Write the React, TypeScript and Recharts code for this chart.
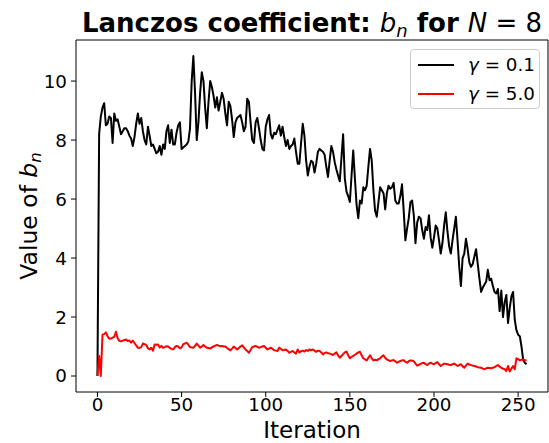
import { LineChart, Line, XAxis, YAxis, ReferenceArea, Legend } from 'recharts';

// b_n values, one per Lanczos iteration
const gamma01 = [
  0, 8.2, 8.8, 9.1, 9.25, 8.5, 8.55, 8.8, 8.75, 7.9,
  8.9, 8.65, 8.7, 8.45, 8.2, 8.3, 8.4, 8.4, 8.3, 8.15,
  8.05, 7.8, 8.1, 8.55, 8.9, 8.55, 8.75, 8.3, 8.0, 7.85,
  8.45, 8.15, 7.8, 7.85, 7.7, 7.55, 7.6, 7.8, 7.5, 7.85,
  7.7, 8.3, 8.5, 7.9, 8.35, 7.85, 7.85, 8.25, 8.5, 8.6,
  7.7, 7.75, 7.8, 7.85, 7.95, 8.4, 10.0, 10.85, 9.6, 8.0,
  8.6, 9.6, 10.3, 10.0, 9.1, 8.4, 9.3, 10.0, 9.8, 9.5,
  9.1, 9.45, 9.0, 9.3, 9.6, 9.4, 8.9, 8.5, 9.3, 9.15,
  8.7, 8.1, 8.6, 8.75, 8.8, 8.85, 8.6, 8.3, 8.45, 9.4,
  9.3, 8.6, 8.0, 7.9, 8.6, 8.75, 8.4, 8.0, 7.7, 7.65,
  8.45, 8.7, 8.85, 8.2, 8.05, 8.25, 8.2, 8.35, 8.5, 8.15,
  8.45, 8.1, 7.8, 8.0, 7.7, 7.8, 7.85, 8.05, 7.6, 7.2,
  7.2, 7.9, 8.55, 8.15, 7.3, 6.8, 7.1, 7.3, 7.25, 6.9,
  7.2, 7.6, 7.7, 7.65, 7.6, 7.5, 7.1, 6.75, 7.3, 7.8,
  7.6, 7.25, 7.0, 6.8, 6.6, 7.4, 8.2, 6.7, 6.25, 6.1,
  5.9, 6.8, 7.65, 6.7, 5.8, 5.35, 5.95, 5.85, 6.4, 6.3,
  6.45, 7.1, 7.7, 7.3, 6.3, 5.6, 5.4, 5.9, 6.4, 6.3,
  6.2, 5.65, 6.2, 6.45, 6.35, 6.4, 6.55, 5.95, 5.85, 5.85,
  6.1, 6.5, 5.6, 4.6, 5.0, 5.35, 5.9, 5.95, 5.45, 4.5,
  5.2, 5.4, 5.35, 4.95, 4.65, 5.05, 4.95, 5.45, 4.7, 4.35,
  4.7, 5.1, 5.0, 4.6, 4.15, 4.5, 5.1, 5.55, 4.9, 4.4,
  4.15, 4.6, 5.0, 5.4, 4.6, 3.7, 3.05, 4.0, 4.15, 4.65,
  4.3, 3.85, 3.7, 3.8, 4.05, 4.3, 3.8, 3.3, 2.85, 3.0,
  3.1, 3.2, 3.6, 3.25, 3.3, 3.05, 2.85, 2.8, 2.95, 2.2,
  2.9, 2.0, 2.5, 2.75, 1.8, 2.3, 2.7, 2.85, 1.9, 1.55,
  1.4, 1.35, 1.0, 0.55, 0.45, 0.4,
];

const gamma50 = [
  0, 0.68, 0, 1.4, 1.42, 1.48, 1.35, 1.26, 1.27, 1.3,
  1.33, 1.5, 1.28, 1.19, 1.18, 1.2, 1.22, 1.24, 1.19, 1.2,
  1.13, 1.2, 1.12, 1.04, 0.96, 0.95, 0.98, 1.1, 1.08, 1.05,
  0.94, 0.9, 0.96, 0.86, 1.07, 1.06, 1.07, 0.97, 1.02, 0.96,
  0.98, 1.01, 1.0, 0.95, 0.92, 0.9, 0.98, 1.02, 1.0, 0.94,
  0.97, 1.08, 1.1, 1.13, 1.06, 0.98, 0.97, 0.96, 1.02, 1.1,
  1.03, 0.96, 1.0, 1.05, 1.0, 0.96, 0.95, 0.93, 0.97, 1.0,
  1.03, 1.05, 1.03, 1.01, 1.02, 1.0, 1.0, 0.95, 0.91, 0.87,
  0.93, 1.0, 0.95, 0.9, 0.95, 1.0, 1.04, 0.97, 0.9, 0.85,
  0.79, 0.88, 0.98, 1.0, 1.02, 0.99, 0.96, 0.98, 1.0, 1.02,
  0.96, 0.9, 0.93, 0.96, 0.92, 0.87, 0.86, 0.85, 0.96, 0.92,
  0.87, 0.88, 0.9, 0.85, 0.79, 0.82, 0.85, 0.8, 0.76, 0.9,
  0.8, 0.84, 0.86, 0.83, 0.88, 0.85, 0.9, 0.87, 0.9, 0.86,
  0.82, 0.86, 0.85, 0.8, 0.73, 0.78, 0.8, 0.77, 0.76, 0.74,
  0.71, 0.76, 0.8, 0.7, 0.62, 0.68, 0.74, 0.8, 0.83, 0.7,
  0.6, 0.65, 0.68, 0.72, 0.76, 0.8, 0.82, 0.7, 0.6, 0.56,
  0.53, 0.62, 0.7, 0.6, 0.53, 0.55, 0.53, 0.57, 0.6, 0.66,
  0.7, 0.62, 0.56, 0.53, 0.51, 0.53, 0.54, 0.5, 0.45, 0.48,
  0.51, 0.53, 0.53, 0.48, 0.45, 0.5, 0.53, 0.52, 0.5, 0.42,
  0.35, 0.38, 0.41, 0.44, 0.45, 0.4, 0.37, 0.42, 0.45, 0.42,
  0.4, 0.44, 0.47, 0.4, 0.34, 0.38, 0.42, 0.41, 0.4, 0.38,
  0.37, 0.4, 0.42, 0.38, 0.34, 0.37, 0.4, 0.33, 0.28, 0.36,
  0.42, 0.39, 0.37, 0.35, 0.34, 0.32, 0.3, 0.29, 0.28, 0.25,
  0.23, 0.26, 0.28, 0.27, 0.26, 0.28, 0.3, 0.34, 0.37, 0.32,
  0.28, 0.25, 0.23, 0.17, 0.34, 0.15, 0.25, 0.34, 0.23, 0.6,
  0.57, 0.53, 0.55, 0.56, 0.54, 0.52,
];

const iterations = gamma01.map((_, i) => i);
const xTicks = [0, 50, 100, 150, 200, 250];
const yTicks = [0, 2, 4, 6, 8, 10];
const seriesLabels = ['0.1', '5.0'];
const seriesColors = ['#000000', '#ff0000'];

const data = iterations.map((it, i) => ({ iter: it, g01: gamma01[i], g50: gamma50[i] }));

const X_DOMAIN: [number, number] = [-12.75, 267.75];
const Y_DOMAIN: [number, number] = [-0.5425, 11.3925];
const FONT = 'DejaVu Sans';

function LegendBox() {
  return (
    <div
      style={{
        width: 130,
        height: 60,
        boxSizing: 'border-box',
        border: '1px solid #cccccc',
        borderRadius: 4,
        background: 'rgba(255,255,255,0.8)',
        position: 'relative',
        fontFamily: FONT,
        fontSize: 18.3,
        color: '#000',
      }}
    >
      {seriesLabels.map((lab, i) => (
        <div key={lab} style={{ position: 'absolute', left: 0, top: 15 + i * 29 - 12, height: 24, width: '100%' }}>
          <svg width={40} height={24} style={{ position: 'absolute', left: 7, top: 0 }}>
            <line x1={0} y1={12} x2={36} y2={12} stroke={seriesColors[i]} strokeWidth={2} />
          </svg>
          <span style={{ position: 'absolute', left: 57, top: 0, lineHeight: '24px', whiteSpace: 'nowrap' }}>
            <i>γ</i> = {lab}
          </span>
        </div>
      ))}
    </div>
  );
}

export default function App() {
  return (
    <div style={{ position: 'absolute', left: 0, top: 0, width: 549, height: 443, background: '#fff' }}>
      <LineChart width={549} height={443} data={data} margin={{ top: 40, right: 1, bottom: 0, left: 0 }}>
        <XAxis
          dataKey="iter"
          type="number"
          domain={X_DOMAIN}
          allowDataOverflow
          ticks={xTicks}
          axisLine={false}
          tickLine={{ stroke: '#000', strokeWidth: 1 }}
          tickSize={5}
          tickMargin={1.5}
          height={51}
          tick={{ fill: '#000', fontSize: 18.3, fontFamily: FONT }}
        />
        <YAxis
          type="number"
          domain={Y_DOMAIN}
          allowDataOverflow
          ticks={yTicks}
          axisLine={false}
          tickLine={{ stroke: '#000', strokeWidth: 1 }}
          tickSize={5}
          tickMargin={4}
          width={76}
          tick={{ fill: '#000', fontSize: 18.3, fontFamily: FONT }}
        />
        <Line
          dataKey="g01"
          type="linear"
          stroke={seriesColors[0]}
          strokeWidth={2}
          strokeLinejoin="round"
          dot={false}
          isAnimationActive={false}
        />
        <Line
          dataKey="g50"
          type="linear"
          stroke={seriesColors[1]}
          strokeWidth={2}
          strokeLinejoin="round"
          dot={false}
          isAnimationActive={false}
        />
        <ReferenceArea
          x1={X_DOMAIN[0]}
          x2={X_DOMAIN[1]}
          y1={Y_DOMAIN[0]}
          y2={Y_DOMAIN[1]}
          fill="none"
          stroke="#000"
          strokeWidth={1}
          ifOverflow="visible"
        />
        <Legend
          layout="vertical"
          align="center"
          verticalAlign="middle"
          content={() => <LegendBox />}
          wrapperStyle={{ position: 'absolute', left: 410, top: 49, width: 130, height: 60 }}
        />
      </LineChart>
      <svg width={549} height={443} style={{ position: 'absolute', left: 0, top: 0, pointerEvents: 'none' }}>
        <text x={312} y={32} textAnchor="middle" fontFamily={FONT} fontSize={26} fontWeight="bold" fill="#000">
          {'Lanczos coefficient: '}
          <tspan fontStyle="italic" fontWeight="normal">b</tspan>
          <tspan fontStyle="italic" fontWeight="normal" fontSize={18} dy={5}>n</tspan>
          <tspan dy={-5}>{' for '}</tspan>
          <tspan fontStyle="italic" fontWeight="normal">N</tspan>
          <tspan fontWeight="normal">{' = 8'}</tspan>
        </text>
        <text x={312} y={437.5} textAnchor="middle" fontFamily={FONT} fontSize={23} fill="#000">
          Iteration
        </text>
        <g transform="translate(28,216) rotate(-90)">
          <text x={0} y={8.5} textAnchor="middle" fontFamily={FONT} fontSize={23.5} fill="#000">
            {'Value of '}
            <tspan fontStyle="italic">b</tspan>
            <tspan fontStyle="italic" fontSize={16.5} dy={4}>n</tspan>
          </text>
        </g>
      </svg>
    </div>
  );
}
